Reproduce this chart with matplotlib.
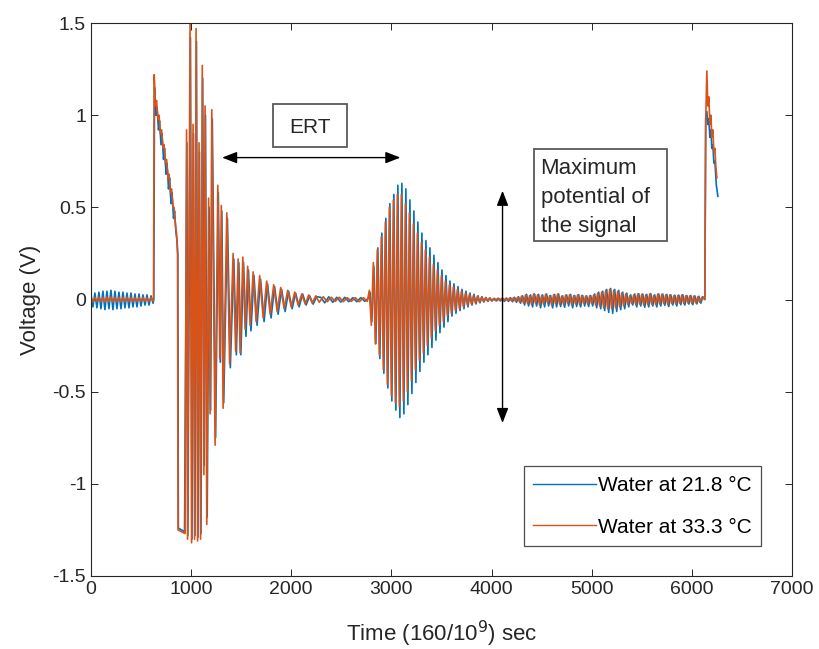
import matplotlib
matplotlib.use("Agg")
import matplotlib.pyplot as plt
from matplotlib.patches import Rectangle
import numpy as np

plt.rcParams["font.family"] = ["Liberation Sans", "DejaVu Sans"]
plt.rcParams["axes.unicode_minus"] = False

# turning points, segment by segment
# water at 33.3 C (orange)
o_pre_t = np.arange(0, 640, 20)
o_pre_v = [0.01, -0.012, 0.011, -0.01, 0.013, -0.012, 0.012, -0.014, 0.013, -0.012, 0.014, -0.013,
           0.012, -0.012, 0.011, -0.013, 0.012, -0.011, 0.012, -0.01, 0.011, -0.012, 0.01, -0.011,
           0.01, -0.01, 0.011, -0.01, 0.009, -0.01, 0.01, -0.008]
o_ramp_t = [625, 632, 645, 655, 670, 680, 695, 705, 720, 730, 745, 755, 770, 780, 795, 805, 820, 830,
            845, 855, 865, 870, 940]
o_ramp_v = [0.0, 1.22, 1.05, 1.08, 0.98, 1.0, 0.9, 0.92, 0.82, 0.84, 0.74, 0.76, 0.66, 0.68, 0.58, 0.6,
            0.5, 0.5, 0.4, 0.36, 0.25, -1.25, -1.27]
o_b1_t = [955, 965, 990, 1005, 1020, 1035, 1050, 1065, 1080, 1095, 1112, 1128, 1140, 1157, 1175, 1190,
          1207, 1240, 1267, 1287, 1302, 1320, 1357, 1385, 1420, 1445, 1470, 1490, 1517, 1540, 1565, 1590,
          1620, 1650, 1685, 1720, 1755, 1790, 1825, 1860, 1895, 1930, 1965, 2000, 2035, 2070, 2105, 2140,
          2175, 2210, 2245]
o_b1_v = [0.92, -1.30, 1.50, -1.32, 0.95, -1.30, 1.47, -1.31, 0.85, -1.30, 1.27, -0.95, 1.05, -1.22,
          0.55, -0.62, 1.03, -0.79, 0.62, -0.32, 0.51, -0.59, 0.47, -0.35, 0.25, -0.28, 0.22, -0.29,
          0.23, -0.16, 0.18, -0.14, 0.15, -0.12, 0.13, -0.10, 0.10, -0.08, 0.08, -0.065, 0.065, -0.05,
          0.05, -0.04, 0.04, -0.03, 0.03, -0.025, 0.025, -0.02, 0.02]
o_q1_t = np.arange(2280, 2761, 40)
o_q1_v = [-0.015, 0.015, -0.012, 0.012, -0.01, 0.012, -0.012, 0.01, -0.01, 0.01, -0.012, 0.01, -0.01]
o_b2_t = np.arange(2780, 4001, 20)
o_b2_v = [0.05, -0.14, 0.2, -0.24, 0.27, -0.3, 0.34, -0.38, 0.42, -0.46, 0.5, -0.52, 0.54, -0.56,
          0.57, -0.58, 0.57, -0.55, 0.52, -0.5, 0.47, -0.44, 0.41, -0.38, 0.36, -0.33, 0.31, -0.29,
          0.27, -0.25, 0.23, -0.21, 0.19, -0.17, 0.16, -0.14, 0.13, -0.12, 0.1, -0.09, 0.08, -0.075,
          0.07, -0.06, 0.055, -0.05, 0.045, -0.04, 0.035, -0.03, 0.028, -0.025, 0.022, -0.02, 0.018,
          -0.015, 0.013, -0.012, 0.01, -0.009, 0.008, -0.007]
o_q2_t = np.arange(4020, 6101, 20)
o_q2_v = [0.005, -0.006, 0.006, -0.005, 0.006, -0.007, 0.006, -0.006, 0.008, -0.008, 0.01, -0.01, 0.012,
          -0.014,
          0.018, -0.02, 0.025, -0.022, 0.02, -0.028, 0.03, -0.02, 0.025, -0.03, 0.022, -0.025, 0.028,
          -0.018, 0.02, -0.03, 0.025, -0.022, 0.03, -0.025, 0.018, -0.028, 0.024, -0.02, 0.026, -0.03,
          0.02, -0.022, 0.025, -0.028, 0.022, -0.02, 0.018, -0.025, 0.02, -0.022,
          0.025, -0.03, 0.035, -0.035, 0.04, -0.045, 0.05, -0.05, 0.055, -0.05, 0.05, -0.045, 0.045,
          -0.04, 0.035, -0.035, 0.03, -0.025, 0.02,
          -0.022, 0.025, -0.028, 0.03, -0.025, 0.028, -0.03, 0.025, -0.028, 0.03, -0.025, 0.022, -0.028,
          0.03, -0.025, 0.028, -0.022, 0.025, -0.028, 0.025, -0.022, 0.02, -0.025, 0.022, -0.02, 0.025,
          -0.022, 0.02, -0.018, 0.02, -0.022, 0.018, -0.018, 0.015, -0.015, 0.012]
o_end_t = [6130, 6140, 6150, 6160, 6170, 6180, 6190, 6200, 6210, 6220, 6230, 6240, 6250]
o_end_v = [0.0, 1.0, 1.24, 1.05, 1.1, 0.95, 1.0, 0.88, 0.92, 0.8, 0.82, 0.72, 0.66]

# water at 21.8 C (blue)
b_pre_t = np.arange(0, 640, 20)
b_pre_v = [0.03, -0.04, 0.035, -0.045, 0.04, -0.05, 0.045, -0.055, 0.045, -0.05, 0.05, -0.055, 0.045,
           -0.05, 0.04, -0.05, 0.04, -0.045, 0.035, -0.045, 0.035, -0.04, 0.03, -0.04, 0.03, -0.035,
           0.025, -0.03, 0.025, -0.03, 0.02, -0.02]
b_ramp_t = [628, 635, 650, 660, 675, 685, 700, 710, 725, 735, 750, 760, 775, 785, 800, 810, 825, 835,
            850, 860, 868, 873, 935]
b_ramp_v = [0.0, 1.15, 1.0, 1.04, 0.92, 0.97, 0.84, 0.9, 0.76, 0.82, 0.68, 0.74, 0.6, 0.66, 0.52, 0.58,
            0.44, 0.48, 0.36, 0.32, 0.24, -1.24, -1.26]
b_b1_t = [958, 968, 994, 1009, 1024, 1039, 1054, 1069, 1084, 1099, 1116, 1132, 1144, 1161, 1180, 1195,
          1212, 1245, 1272, 1292, 1307, 1326, 1363, 1392, 1427, 1452, 1477, 1497, 1524, 1548, 1573, 1598,
          1628, 1659, 1694, 1729, 1764, 1799, 1834, 1869, 1904, 1939, 1974, 2009, 2044, 2079, 2114, 2149,
          2184, 2219, 2254]
b_b1_v = [0.85, -1.28, 1.42, -1.30, 0.9, -1.28, 1.4, -1.29, 0.8, -1.27, 1.2, -0.9, 1.0, -1.18, 0.5,
          -0.6, 0.98, -0.75, 0.58, -0.34, 0.48, -0.56, 0.44, -0.37, 0.22, -0.3, 0.2, -0.3, 0.2, -0.2,
          0.16, -0.17, 0.13, -0.14, 0.11, -0.12, 0.085, -0.1, 0.07, -0.08, 0.055, -0.065, 0.045, -0.05,
          0.035, -0.04, 0.03, -0.03, 0.02, -0.025, 0.015]
b_q1_t = np.arange(2295, 2776, 40)
b_q1_v = [0.012, -0.018, 0.015, -0.015, 0.012, -0.014, 0.012, -0.012, 0.01, -0.012, 0.01, -0.01, 0.01]
b_b2_t = np.arange(2785, 4006, 20)
b_b2_v = [0.04, -0.12, 0.18, -0.24, 0.28, -0.32, 0.36, -0.4, 0.44, -0.48, 0.52, -0.55, 0.57, -0.6,
          0.62, -0.64, 0.63, -0.62, 0.6, -0.57, 0.54, -0.51, 0.48, -0.45, 0.42, -0.39, 0.36, -0.34,
          0.32, -0.3, 0.28, -0.26, 0.24, -0.22, 0.2, -0.18, 0.16, -0.15, 0.13, -0.12, 0.1, -0.09,
          0.085, -0.075, 0.07, -0.06, 0.055, -0.05, 0.045, -0.04, 0.035, -0.03, 0.028, -0.024, 0.02,
          -0.018, 0.015, -0.013, 0.011, -0.01, 0.009, -0.008]
b_q2_t = np.arange(4030, 6111, 20)
b_q2_v = [0.006, -0.008, 0.007, -0.008, 0.008, -0.01, 0.008, -0.01, 0.01, -0.012, 0.012, -0.015, 0.015,
          -0.02,
          0.02, -0.03, 0.028, -0.035, 0.025, -0.04, 0.03, -0.035, 0.028, -0.045, 0.025, -0.04, 0.03,
          -0.035, 0.022, -0.045, 0.028, -0.04, 0.03, -0.038, 0.02, -0.042, 0.025, -0.035, 0.028, -0.045,
          0.022, -0.038, 0.026, -0.04, 0.022, -0.035, 0.02, -0.038, 0.022, -0.035,
          0.03, -0.045, 0.04, -0.05, 0.045, -0.06, 0.055, -0.07, 0.06, -0.075, 0.055, -0.065, 0.05,
          -0.055, 0.04, -0.05, 0.035, -0.04, 0.025,
          -0.03, 0.03, -0.04, 0.032, -0.035, 0.03, -0.042, 0.028, -0.04, 0.032, -0.035, 0.025, -0.04,
          0.03, -0.035, 0.03, -0.032, 0.028, -0.038, 0.026, -0.03, 0.024, -0.035, 0.024, -0.028, 0.026,
          -0.03, 0.022, -0.025, 0.022, -0.028, 0.02, -0.024, 0.018, -0.02, 0.015]
b_end_t = [6130, 6138, 6150, 6160, 6170, 6180, 6190, 6200, 6210, 6220, 6230, 6245, 6260]
b_end_v = [0.0, 0.98, 1.02, 0.95, 0.98, 0.88, 0.92, 0.82, 0.84, 0.74, 0.75, 0.62, 0.56]

labels = ["Water at 21.8 °C", "Water at 33.3 °C"]

t_blue = np.concatenate([b_pre_t, b_ramp_t, b_b1_t, b_q1_t, b_b2_t, b_q2_t, b_end_t])
v_blue = np.concatenate([b_pre_v, b_ramp_v, b_b1_v, b_q1_v, b_b2_v, b_q2_v, b_end_v])
t_orange = np.concatenate([o_pre_t, o_ramp_t, o_b1_t, o_q1_t, o_b2_t, o_q2_t, o_end_t])
v_orange = np.concatenate([o_pre_v, o_ramp_v, o_b1_v, o_q1_v, o_b2_v, o_q2_v, o_end_v])

fig = plt.figure(figsize=(8.19, 6.49), dpi=100)
ax = fig.add_axes([0.111, 0.1125, 0.856, 0.852])

ax.plot(t_blue, v_blue, color="#0072BD", lw=1.2, label=labels[0])
ax.plot(t_orange, v_orange, color="#D95319", lw=1.2, label=labels[1])

ax.set_xlim(0, 7000)
ax.set_ylim(-1.5, 1.5)
ax.set_xticks(np.arange(0, 7001, 1000))
ax.set_yticks([-1.5, -1, -0.5, 0, 0.5, 1, 1.5])
ax.set_yticklabels(["-1.5", "-1", "-0.5", "0", "0.5", "1", "1.5"])
ax.tick_params(direction="in", top=True, right=True, length=5, width=0.7, labelsize=14, colors="0.15")
for s in ax.spines.values():
    s.set_linewidth(0.8)
    s.set_color("0.15")

ax.set_xlabel("Time (160/10$^9$) sec", fontsize=16, color="0.15", labelpad=15)
ax.set_ylabel("Voltage (V)", fontsize=16, color="0.15", labelpad=8)

leg = ax.legend(loc="lower right", bbox_to_anchor=(0.956, 0.054), borderaxespad=0, fontsize=15,
                handlelength=3.0, handletextpad=0.1, labelspacing=1.1, borderpad=0.45,
                fancybox=False, framealpha=1, edgecolor="0.3")
leg.get_frame().set_linewidth(0.9)
for line in leg.get_lines():
    line.set_linewidth(1.0)

# ERT annotation
ax.add_patch(Rectangle((1820, 0.83), 740, 0.23, fill=False, ec="0.35", lw=1.3))
ax.text(2190, 0.935, "ERT", ha="center", va="center", fontsize=15, color="0.15")
ax.annotate("", xy=(1310, 0.77), xytext=(3090, 0.77),
            arrowprops=dict(arrowstyle="<|-|>,head_length=0.9,head_width=0.35", color="black", lw=1.0,
                            shrinkA=0, shrinkB=0))

# maximum potential annotation
ax.add_patch(Rectangle((4420, 0.315), 1330, 0.5, fill=False, ec="0.35", lw=1.3))
ax.text(4490, 0.555, "Maximum\npotential of\nthe signal", ha="left", va="center", fontsize=16,
        color="0.15", linespacing=1.5)
ax.annotate("", xy=(4110, 0.59), xytext=(4110, -0.67),
            arrowprops=dict(arrowstyle="<|-|>,head_length=0.9,head_width=0.35", color="black", lw=1.0,
                            shrinkA=0, shrinkB=0))

fig.savefig("out.png", dpi=100)
